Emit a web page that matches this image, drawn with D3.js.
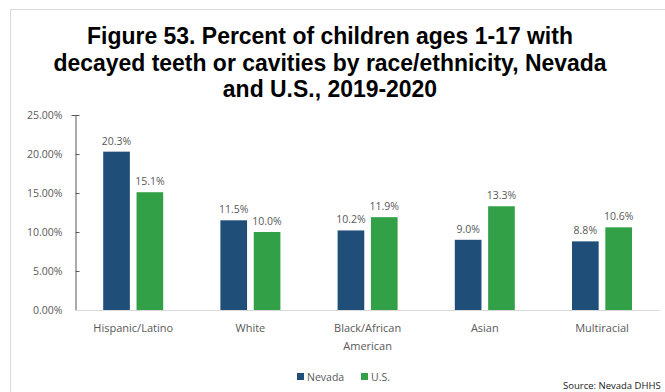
<!DOCTYPE html>
<html>
<head>
<meta charset="utf-8">
<script src="https://cdn.jsdelivr.net/npm/d3@7"></script>
<style>
  html, body { margin: 0; padding: 0; background: #fff; }
  svg { display: block; }
</style>
</head>
<body>
<svg id="chart" width="665" height="392"></svg>
<script>
const titleLines = [
  "Figure 53. Percent of children ages 1-17 with",
  "decayed teeth or cavities by race/ethnicity, Nevada",
  "and U.S., 2019-2020"
];
const categories = [
  ["Hispanic/Latino"],
  ["White"],
  ["Black/African", "American"],
  ["Asian"],
  ["Multiracial"]
];
const seriesNames = ["Nevada", "U.S."];
const nevada = [20.3, 11.5, 10.2, 9.0, 8.8];
const us = [15.1, 10.0, 11.9, 13.3, 10.6];
const yTicks = [0, 5, 10, 15, 20, 25];
const sourceText = "Source: Nevada DHHS";

const colors = ["#1F4E79", "#31A046"];
const svg = d3.select("#chart");

// frame
svg.append("path")
  .attr("d", "M10.5,392 V9.5 H665")
  .attr("fill", "none").attr("stroke", "#d9d9d9").attr("stroke-width", 1);

// title
const title = svg.append("g");
const titleY = [44, 71, 97];
titleLines.forEach((t, i) => {
  title.append("text")
    .attr("x", 330).attr("y", titleY[i])
    .attr("text-anchor", "middle")
    .attr("font-family", "Liberation Sans, Arial, sans-serif")
    .attr("font-weight", "bold")
    .attr("font-size", 23)
    .attr("fill", "#000")
    .text(t);
});
const targetW = 486;
const w0 = title.select("text").node().getComputedTextLength();
const sx = targetW / w0;
title.selectAll("text").attr("transform", `translate(330,0) scale(${sx},1) translate(-330,0)`);

const x0 = d3.scaleBand().domain(d3.range(categories.length)).range([74.6, 660.6]).padding(0);
const x1 = d3.scaleBand().domain(seriesNames).range([-30, 30]).paddingInner(0.2);
const y = d3.scaleLinear().domain([0, 25]).range([310, 115]);

const font = "Open Sans, Noto Sans, sans-serif";

// y axis
const yAxis = d3.axisLeft(y).tickValues(yTicks).tickSize(-4).tickPadding(13)
  .tickFormat(d => d.toFixed(2) + "%");
const ya = svg.append("g").attr("transform", "translate(75.5,0)").call(yAxis);
ya.select(".domain").attr("stroke", "#595959").attr("d", "M-4,115.5 H0.5 V310.5");
ya.selectAll(".tick line").attr("stroke", "#595959");
ya.selectAll(".tick text").attr("fill", "#595959").attr("font-family", font).attr("font-size", 10.5);

// x axis baseline
svg.append("line")
  .attr("x1", 75).attr("x2", 660).attr("y1", y(0) + 0.5).attr("y2", y(0) + 0.5)
  .attr("stroke", "#d9d9d9");

// bars
const groups = svg.append("g").selectAll("g").data(categories).join("g")
  .attr("transform", (d, i) => `translate(${x0(i) + x0.bandwidth() / 2},0)`);

groups.each(function(cat, i) {
  const g = d3.select(this);
  const vals = [nevada[i], us[i]];
  vals.forEach((v, j) => {
    g.append("rect")
      .attr("x", x1(seriesNames[j]))
      .attr("width", x1.bandwidth())
      .attr("y", y(v))
      .attr("height", y(0) - y(v))
      .attr("fill", colors[j]);
    g.append("text")
      .attr("x", x1(seriesNames[j]) + x1.bandwidth() / 2)
      .attr("y", y(v) - 7)
      .attr("text-anchor", "middle")
      .attr("font-family", font).attr("font-size", 10.5)
      .attr("fill", "#595959")
      .text(v.toFixed(1) + "%");
  });
  cat.forEach((line, k) => {
    g.append("text")
      .attr("x", 0).attr("y", 332 + k * 18)
      .attr("text-anchor", "middle")
      .attr("font-family", font).attr("font-size", 11)
      .attr("fill", "#595959")
      .text(line);
  });
});

// legend
const legend = svg.append("g");
const legX = [297, 361];
seriesNames.forEach((s, j) => {
  legend.append("rect").attr("x", legX[j]).attr("y", 373).attr("width", 7).attr("height", 7).attr("fill", colors[j]);
  legend.append("text").attr("x", legX[j] + 10).attr("y", 381)
    .attr("font-family", font).attr("font-size", 10.5).attr("fill", "#595959").text(s);
});

// source
svg.append("text").attr("x", 563).attr("y", 389)
  .attr("font-family", font).attr("font-size", 9.5).attr("fill", "#1a1a1a")
  .text(sourceText);
</script>
</body>
</html>
